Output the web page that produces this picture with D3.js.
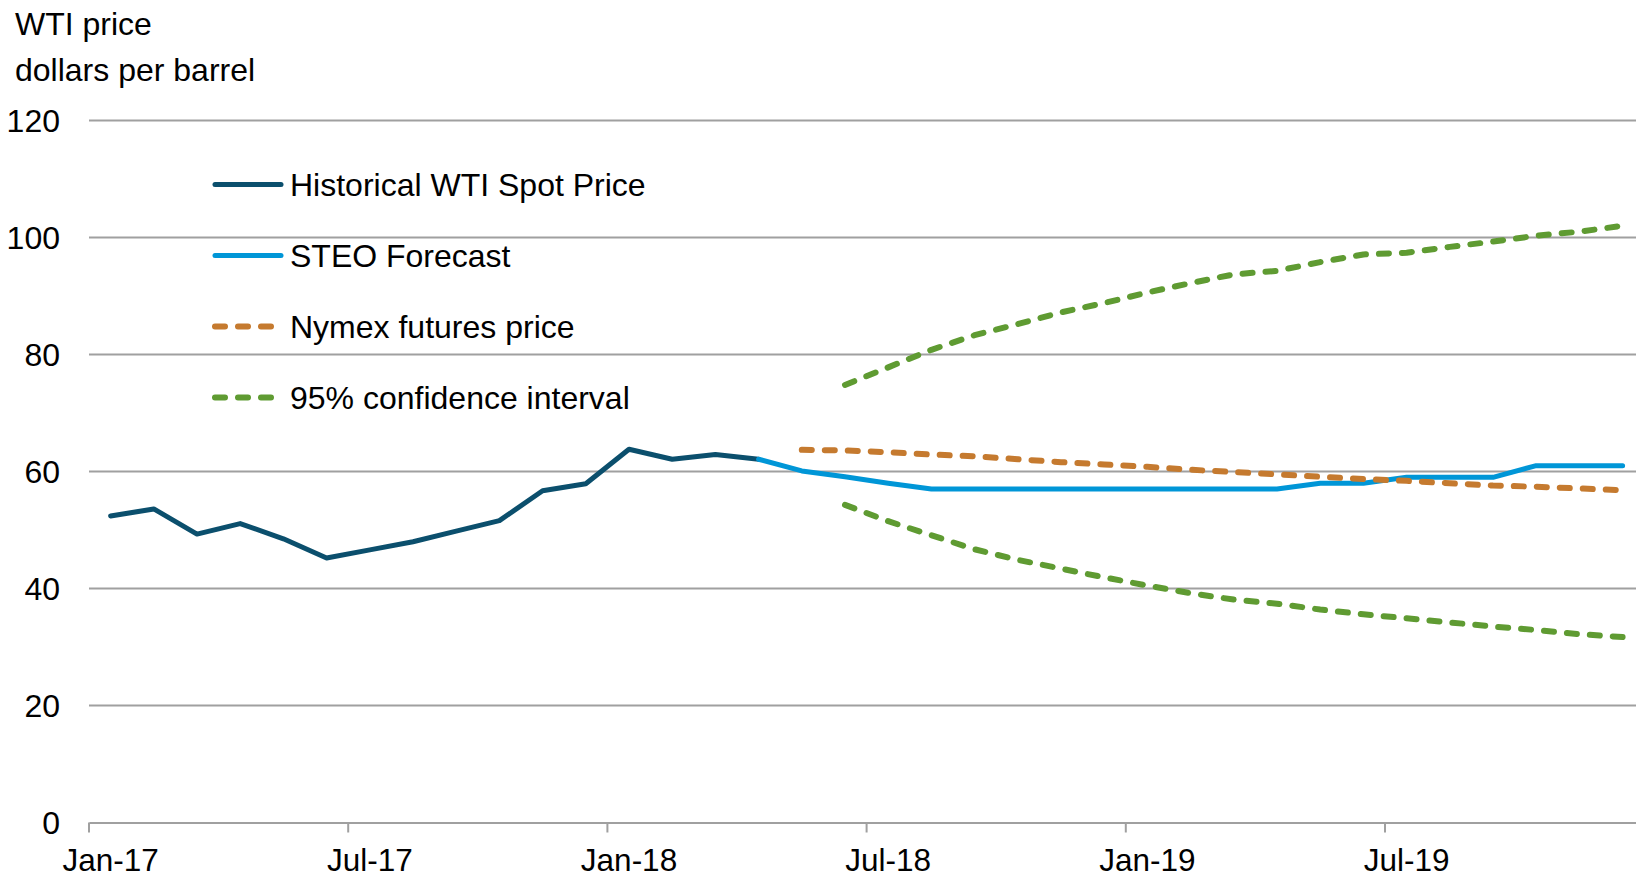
<!DOCTYPE html>
<html>
<head>
<meta charset="utf-8">
<script src="https://cdn.jsdelivr.net/npm/d3@7/dist/d3.min.js"></script>
<style>
  html, body { margin: 0; padding: 0; background: #fff; }
  svg { display: block; }
  text { font-family: "Liberation Sans", Arial, sans-serif; fill: #000; }
</style>
</head>
<body>
<svg id="chart" width="1636" height="875"></svg>
<script>
// ---- Data ----
const months = ["Jan-17","Feb-17","Mar-17","Apr-17","May-17","Jun-17","Jul-17","Aug-17","Sep-17","Oct-17","Nov-17","Dec-17",
                "Jan-18","Feb-18","Mar-18","Apr-18","May-18","Jun-18","Jul-18","Aug-18","Sep-18","Oct-18","Nov-18","Dec-18",
                "Jan-19","Feb-19","Mar-19","Apr-19","May-19","Jun-19","Jul-19","Aug-19","Sep-19","Oct-19","Nov-19","Dec-19"];
const tickLabels = ["Jan-17","Jul-17","Jan-18","Jul-18","Jan-19","Jul-19"];
const yTicks = [0, 20, 40, 60, 80, 100, 120];

// Historical WTI spot: Jan-17 .. Apr-18
const historicalStart = "Jan-17";
const historical = [52.4, 53.6, 49.3, 51.1, 48.5, 45.2, 46.6, 48.0, 49.8, 51.6, 56.7, 57.9, 63.8, 62.1, 62.9, 62.1];
// STEO forecast: Apr-18 .. Dec-19
const steoStart = "Apr-18";
const steo = [62.1, 60.1, 59.1, 58.0, 57, 57, 57, 57, 57, 57, 57, 57, 57, 58, 58, 59, 59, 59, 61, 61, 61];
// Nymex futures: May-18 .. Dec-19
const nymexStart = "May-18";
const nymex = [63.7, 63.6, 63.3, 62.9, 62.6, 62.1, 61.6, 61.2, 60.8, 60.3, 59.9, 59.5, 59.1, 58.7, 58.4, 58.0, 57.6, 57.4, 57.1, 56.8];
// 95% confidence interval: Jun-18 .. Dec-19
const ciStart = "Jun-18";
const ciUpper = [74.8, 77.8, 80.8, 83.3, 85.2, 87.2, 88.8, 90.6, 92.2, 93.7, 94.3, 95.8, 97.1, 97.4, 98.4, 99.3, 100.3, 101.0, 102.0];
const ciLower = [54.3, 51.5, 49.1, 46.7, 44.9, 43.4, 41.9, 40.5, 39.2, 38.1, 37.4, 36.4, 35.6, 34.9, 34.2, 33.5, 32.9, 32.2, 31.7];

const seriesNames = ["Historical WTI Spot Price", "STEO Forecast", "Nymex futures price", "95% confidence interval"];
const colors = { hist: "#0b4f6d", steo: "#0096d7", nymex: "#c57a2f", ci: "#5f9b32" };

// ---- Layout ----
const svg = d3.select("#chart");
const plotLeft = 89, monthW = 43.2, plotTop = 120.5, plotBottom = 822.5;
const plotRight = plotLeft + months.length * monthW;
const fontSize = 32;

const x = d3.scaleBand().domain(months).range([plotLeft, plotRight]).padding(0);
const y = d3.scaleLinear().domain([0, 120]).range([plotBottom, plotTop]);
const cx = m => x(m) + x.bandwidth() / 2;

function toPoints(start, vals) {
  const i0 = months.indexOf(start);
  return vals.map((v, i) => ({ m: months[i0 + i], v }));
}

// Gridlines
svg.append("g").selectAll("line").data(yTicks.filter(d => d > 0)).join("line")
  .attr("x1", plotLeft).attr("x2", plotRight)
  .attr("y1", d => y(d)).attr("y2", d => y(d))
  .attr("stroke", "#a0a0a0").attr("stroke-width", 2);

// Y labels
svg.append("g").selectAll("text").data(yTicks).join("text")
  .attr("x", 60).attr("y", d => y(d)).attr("dy", "0.36em")
  .attr("text-anchor", "end").attr("font-size", fontSize).text(d => d);

// X axis
const xAxis = d3.axisBottom(x)
  .tickValues(months.filter((m, i) => i % 6 === 0))
  .tickSize(10).tickSizeOuter(0).tickFormat(m => tickLabels.includes(m) ? m : "");
const gx = svg.append("g").attr("transform", `translate(0,${plotBottom})`).call(xAxis);
gx.select(".domain").attr("stroke", "#a0a0a0").attr("stroke-width", 2);
gx.selectAll(".tick line").attr("stroke", "#a0a0a0").attr("stroke-width", 2)
  .attr("transform", `translate(${-x.bandwidth() / 2},0)`);
gx.selectAll(".tick text").attr("font-size", 31.5).attr("fill", "#000")
  .attr("font-family", "Liberation Sans, Arial, sans-serif").attr("y", 26).attr("dy", "0.71em");

// Lines
const line = d3.line().x(d => cx(d.m)).y(d => y(d.v));
function drawLine(data, color, dashed) {
  const p = svg.append("path").datum(data)
    .attr("fill", "none").attr("stroke", color)
    .attr("stroke-width", dashed ? 6 : 5)
    .attr("stroke-linejoin", "round").attr("stroke-linecap", "round")
    .attr("d", line);
  if (dashed) p.attr("stroke-dasharray", "10,13");
}
drawLine(toPoints(historicalStart, historical), colors.hist, false);
drawLine(toPoints(steoStart, steo), colors.steo, false);
drawLine(toPoints(nymexStart, nymex), colors.nymex, true);
drawLine(toPoints(ciStart, ciUpper), colors.ci, true);
drawLine(toPoints(ciStart, ciLower), colors.ci, true);

// Title
svg.append("text").attr("x", 15).attr("y", 35).attr("font-size", fontSize).text("WTI price");
svg.append("text").attr("x", 15).attr("y", 81).attr("font-size", fontSize).text("dollars per barrel");

// Legend
const legendRows = [184.5, 255.5, 326.5, 397.5];
const legendColors = [colors.hist, colors.steo, colors.nymex, colors.ci];
const legendDashed = [false, false, true, true];
const lg = svg.append("g");
seriesNames.forEach((name, i) => {
  const ly = legendRows[i];
  const l = lg.append("line").attr("x1", 215).attr("x2", 281).attr("y1", ly).attr("y2", ly)
    .attr("stroke", legendColors[i]).attr("stroke-width", legendDashed[i] ? 6 : 5)
    .attr("stroke-linecap", "round");
  if (legendDashed[i]) l.attr("stroke-dasharray", "10,13");
  lg.append("text").attr("x", 290).attr("y", ly + 11.5).attr("font-size", fontSize).text(name);
});
</script>
</body>
</html>
